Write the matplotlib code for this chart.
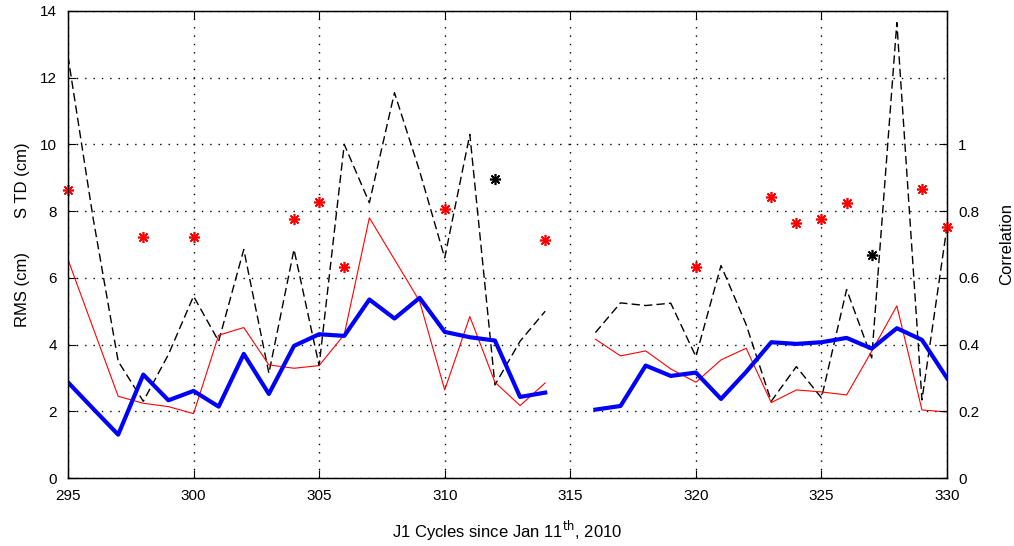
import numpy as np
import matplotlib.pyplot as plt

plt.rcParams['font.family'] = ['Liberation Sans', 'DejaVu Sans']

nan = np.nan
cycles = np.arange(295, 331)

# thick blue line (RMS)
rms_blue = [2.87, 2.08, 1.30, 3.10, 2.33, 2.61, 2.14, 3.72, 2.52, 3.96,
            4.31, 4.26, 5.35, 4.78, 5.40, 4.38, 4.22, 4.12, 2.43, 2.56,
            nan, 2.05, 2.16, 3.37, 3.06, 3.16, 2.37, 3.18, 4.07, 4.02,
            4.07, 4.20, 3.88, 4.49, 4.14, 2.99]

# thin red line
rms_red = [6.55, 4.50, 2.45, 2.24, 2.14, 1.93, 4.28, 4.51, 3.39, 3.29,
           3.37, 4.30, 7.80, 6.55, 5.30, 2.64, 4.84, 2.87, 2.17, 2.85,
           nan, 4.16, 3.66, 3.81, 3.27, 2.87, 3.54, 3.89, 2.26, 2.64,
           2.58, 2.49, 3.80, 5.16, 2.04, 1.98]

# black dashed line (STD)
std_black = [12.65, 7.8, 3.5, 2.3, 3.7, 5.45, 4.1, 6.85, 3.14, 6.85,
             3.37, 10.0, 8.25, 11.55, 9.2, 6.6, 10.3, 2.79, 4.1, 5.0,
             nan, 4.36, 5.25, 5.17, 5.24, 3.64, 6.37, 4.6, 2.3, 3.34,
             2.4, 5.65, 3.6, 13.65, 2.34, 7.55]

# correlation markers (right axis)
corr_red_x = [295, 298, 300, 304, 305, 306, 310, 314, 320, 323, 324, 325, 326, 329, 330]
corr_red = [0.862, 0.722, 0.722, 0.775, 0.828, 0.632, 0.805, 0.713,
            0.632, 0.842, 0.765, 0.775, 0.823, 0.867, 0.753]
corr_black_x = [312, 327]
corr_black = [0.895, 0.667]

fig = plt.figure(figsize=(10.14, 5.46), dpi=100)
ax = fig.add_axes([0.067, 0.1245, 0.867, 0.8555])

ax.plot(cycles, std_black, color='black', lw=1.0, ls=(0, (6, 3)))
ax.plot(cycles, rms_red, color='red', lw=0.8)
ax.plot(cycles, rms_blue, color='blue', lw=3.0)

ax.set_xlim(295, 330)
ax.set_ylim(0, 14)
ax.set_xticks(np.arange(295, 331, 5))
ax.set_yticks(np.arange(0, 15, 2))
ax.grid(True, color='black', ls=(0, (1, 5)), lw=1.0)
ax.tick_params(direction='in', top=True, right=True, labelsize=11, length=6)
ax.tick_params(axis='x', pad=8)
ax.tick_params(axis='y', pad=8)
for s in ax.spines.values():
    s.set_linewidth(1.0)

ax2 = ax.twinx()
ax2.set_ylim(0, 1.4)
ax2.set_yticks([0, 0.2, 0.4, 0.6, 0.8, 1.0])
ax2.set_yticklabels(['0', '0.2', '0.4', '0.6', '0.8', '1'])
ax2.tick_params(direction='in', labelsize=11, length=6, pad=8)
ax2.plot(corr_red_x, corr_red, ls='none', marker=(8, 2, 0), ms=8, mew=1.2,
         color='red', clip_on=False)
ax2.plot(corr_black_x, corr_black, ls='none', marker=(8, 2, 0), ms=8, mew=1.2,
         color='black', clip_on=False)
ax2.set_ylabel('Correlation', fontsize=12, labelpad=14)

ax.set_xlabel('J1 Cycles since Jan 11$^{\\mathrm{th}}$, 2010', fontsize=12, labelpad=11)
fig.text(0.022, 0.47, 'RMS (cm)', rotation=90, fontsize=12, ha='center', va='center')
fig.text(0.022, 0.67, 'S TD (cm)', rotation=90, fontsize=12, ha='center', va='center')

fig.savefig('out.png', dpi=100)
